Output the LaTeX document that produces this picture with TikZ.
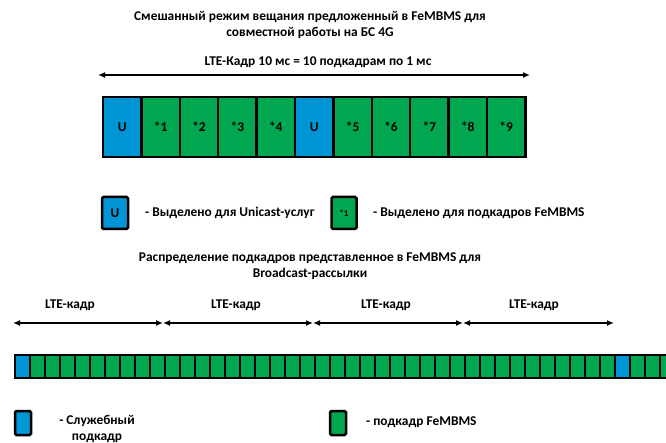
\documentclass[tikz,border=0pt]{standalone}
\usepackage{fontspec}
\setmainfont{Carlito}
\usetikzlibrary{arrows.meta}
\definecolor{ublue}{RGB}{0,150,214}
\definecolor{mgreen}{RGB}{0,166,80}
\begin{document}
\begin{tikzpicture}[x=1pt,y=-1pt,
  font=\fontsize{13.4}{16}\selectfont\bfseries,
  cell/.style={draw=black,line width=2.5pt,minimum width=38.4pt,minimum height=60pt,inner sep=0pt},
  small/.style={draw=black,line width=2pt,minimum width=15pt,minimum height=23pt,inner sep=0pt,fill=mgreen},
  key/.style={draw=black,line width=2.5pt,rounded corners=1.5pt,inner sep=0pt},
  span/.style={{Latex[length=7pt,width=6pt]}-{Latex[length=7pt,width=6pt]},line width=1.8pt},
  lbl/.style={inner sep=0pt}]
\useasboundingbox (0,0) rectangle (666,443);

% heading
\node[lbl,align=center] (title) at (310,25) {Смешанный режим вещания предложенный в FeMBMS для\\совместной работы на БС 4G};
\node[lbl] (frame) at (318,62) {LTE-Кадр 10 мс = 10 подкадрам по 1 мс};

% one LTE frame: unicast and FeMBMS subframes
\coordinate (fl) at (98,75);
\coordinate (fr) at (530,75);
\draw[span] (fl) -- (fr);
\foreach \i/\t/\c in {0/U/ublue,1/*1/mgreen,2/*2/mgreen,3/*3/mgreen,4/*4/mgreen,5/U/ublue,
                      6/*5/mgreen,7/*6/mgreen,8/*7/mgreen,9/*8/mgreen,10/*9/mgreen}
  \node[cell,fill=\c] (c\i) at ({103+38.4*(\i+0.5)},127) {\t};

% legend for the frame
\node[key,fill=ublue,minimum width=26pt,minimum height=32pt] (ku) at (115,213) {U};
\node[lbl,anchor=west] (kut) at (145,213) {- Выделено для Unicast-услуг};
\node[key,fill=mgreen,minimum width=25pt,minimum height=32pt] (kf) at (344,213) {\fontsize{9}{10}\selectfont *1};
\node[lbl,anchor=west] (kft) at (373,213) {- Выделено для подкадров FeMBMS};

% second heading
\node[lbl,align=center] (title2) at (310,266) {Распределение подкадров представленное в FeMBMS для\\Broadcast-рассылки};

% four LTE frames
\foreach \i/\x in {0/13,1/163,2/313,3/463,4/614}
  \coordinate (a\i) at (\x,323);
\foreach \i/\j in {0/1,1/2,2/3,3/4}
  \draw[span] (a\i) -- (a\j);
\foreach \i/\x in {1/70,2/236,3/386,4/534}
  \node[lbl] (t\i) at (\x,305) {LTE-кадр};

% subframe strip
\begin{scope}
\clip (0,340) rectangle (666,390);
\foreach \i in {0,...,43}{
  \ifnum\i=0 \def\cc{ublue}\else\ifnum\i=40 \def\cc{ublue}\else\def\cc{mgreen}\fi\fi
  \node[small,fill=\cc] (b\i) at ({15+15*(\i+0.5)},366.5) {};
}
\end{scope}

% legend for the strip
\node[key,fill=ublue,minimum width=16pt,minimum height=24pt] (ks) at (23,423) {};
\node[lbl,align=center] (kst) at (97,429) {- Служебный\\подкадр};
\node[key,fill=mgreen,minimum width=16pt,minimum height=24pt] (kg) at (338,423) {};
\node[lbl,anchor=west] (kgt) at (366,422) {- подкадр FeMBMS};
\end{tikzpicture}
\end{document}
